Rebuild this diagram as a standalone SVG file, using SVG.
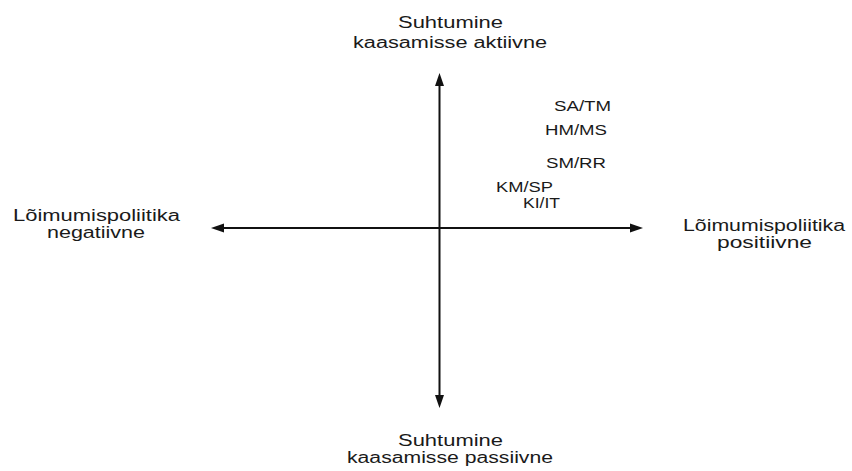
<svg xmlns="http://www.w3.org/2000/svg" width="852" height="471" viewBox="0 0 852 471">
<style>
.ax{stroke:#111;stroke-width:2;fill:none}
.ah{fill:#111;stroke:none}
text{font-family:"Liberation Sans",Arial,sans-serif;fill:#1a1a1a}
.lbl{font-size:16px}
.pt{font-size:14px}
</style>
<rect width="852" height="471" fill="#fff"/>
<g id="connectors">
<line class="ax" x1="439.5" y1="84" x2="439.5" y2="397"/>
<polygon class="ah" points="439.5,73 444,86 435,86"/>
<polygon class="ah" points="439.5,408 444,395 435,395"/>
<line class="ax" x1="222" y1="228" x2="632" y2="228"/>
<polygon class="ah" points="211,228 224,223.5 224,232.5"/>
<polygon class="ah" points="643,228 630,223.5 630,232.5"/>
</g>
<g id="top-label">
<text class="lbl" x="398" y="28" textLength="105" lengthAdjust="spacingAndGlyphs">Suhtumine</text>
<text class="lbl" x="353" y="48" textLength="194" lengthAdjust="spacingAndGlyphs">kaasamisse aktiivne</text>
</g>
<g id="bottom-label">
<text class="lbl" x="398" y="446" textLength="105" lengthAdjust="spacingAndGlyphs">Suhtumine</text>
<text class="lbl" x="347" y="463" textLength="206" lengthAdjust="spacingAndGlyphs">kaasamisse passiivne</text>
</g>
<g id="left-label">
<text class="lbl" x="13" y="221" textLength="167" lengthAdjust="spacingAndGlyphs">Lõimumispoliitika</text>
<text class="lbl" x="47" y="238" textLength="98" lengthAdjust="spacingAndGlyphs">negatiivne</text>
</g>
<g id="right-label">
<text class="lbl" x="683" y="231" textLength="162" lengthAdjust="spacingAndGlyphs">Lõimumispoliitika</text>
<text class="lbl" x="717" y="248" textLength="95" lengthAdjust="spacingAndGlyphs">positiivne</text>
</g>
<g id="SA-TM"><text class="pt" x="554" y="111" textLength="57" lengthAdjust="spacingAndGlyphs">SA/TM</text></g>
<g id="HM-MS"><text class="pt" x="545" y="135" textLength="62" lengthAdjust="spacingAndGlyphs">HM/MS</text></g>
<g id="SM-RR"><text class="pt" x="546" y="168" textLength="60" lengthAdjust="spacingAndGlyphs">SM/RR</text></g>
<g id="KM-SP"><text class="pt" x="496" y="192" textLength="57" lengthAdjust="spacingAndGlyphs">KM/SP</text></g>
<g id="KI-IT"><text class="pt" x="523" y="208" textLength="37" lengthAdjust="spacingAndGlyphs">KI/IT</text></g>
</svg>
